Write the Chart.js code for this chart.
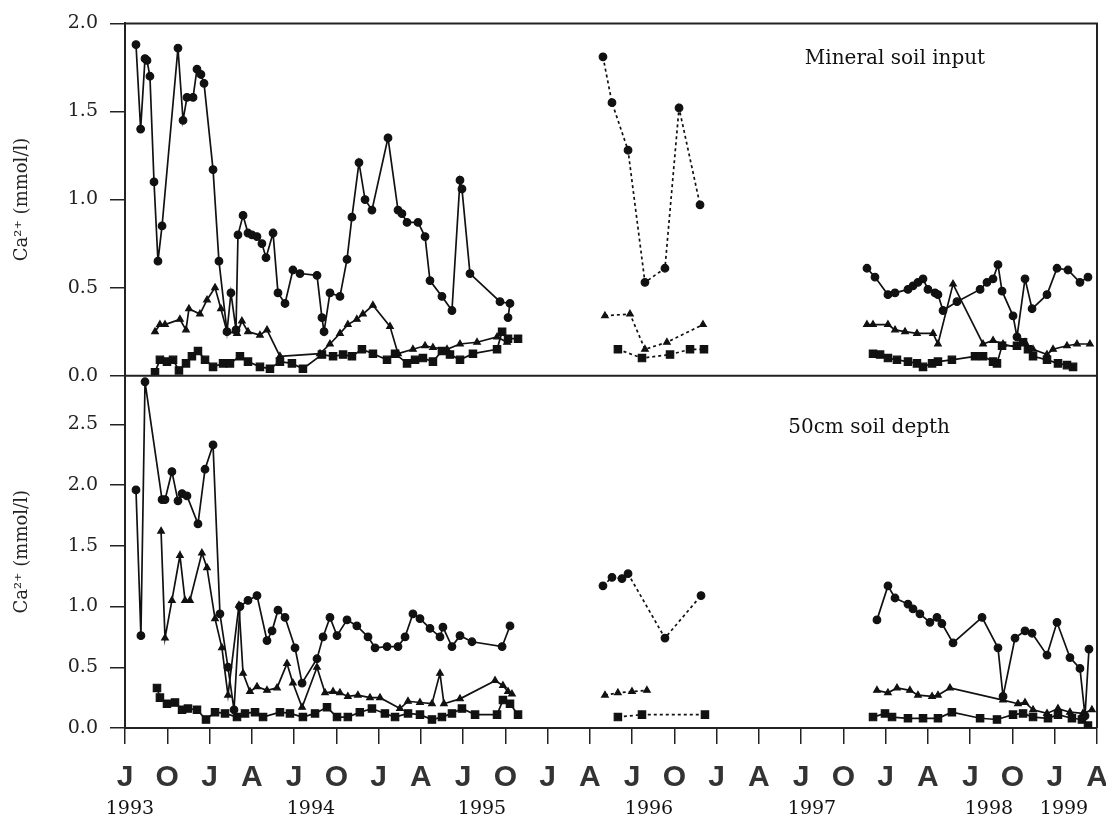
<!DOCTYPE html>
<html>
<head>
<meta charset="utf-8">
<script src="https://cdn.jsdelivr.net/npm/chart.js@4.4.1/dist/chart.umd.min.js"></script>
<style>
  html, body { margin: 0; padding: 0; background: #fff; }
  #wrap { position: relative; width: 1106px; height: 821px; }
</style>
</head>
<body>
<div id="wrap"><canvas id="caChart" width="1106" height="821"></canvas></div>
<script>
// x = months counted from January 1993 (Jul 1993 = 6, Apr 1999 = 75), y = Ca2+ in mmol/l
const monthLetters = ['J','O','J','A','J','O','J','A','J','O','J','A','J','O','J','A','J','O','J','A','J','O','J','A'];
const yearLabels = ['1993', '1994', '1995', '1996', '1997', '1998', '1999'];
const yearPos = [6.35, 19.2, 31.34, 43.2, 54.77, 67.33, 72.66];
const panelTitles = ['Mineral soil input', '50cm soil depth'];
const axisTitle = 'Ca\u00B2\u207A (mmol/l)';

// Mineral soil input
const topCirc93 = [[6.78,1.88],[7.11,1.40],[7.42,1.80],[7.56,1.79],[7.77,1.70],[8.06,1.10],[8.34,0.65],[8.63,0.85],[9.76,1.86],[10.12,1.45],[10.40,1.58],[10.83,1.58],[11.11,1.74],[11.39,1.71],[11.61,1.66],[12.25,1.17],[12.67,0.65],[13.24,0.25],[13.52,0.47],[13.88,0.26],[14.02,0.80],[14.38,0.91],[14.73,0.81],[15.01,0.80],[15.37,0.79],[15.72,0.75],[16.01,0.67],[16.51,0.81],[16.86,0.47],[17.36,0.41],[17.92,0.60],[18.42,0.58],[19.63,0.57],[19.98,0.33],[20.13,0.25],[20.55,0.47],[21.26,0.45],[21.76,0.66],[22.11,0.90],[22.61,1.21],[23.04,1.00],[23.53,0.94],[24.67,1.35],[25.38,0.94],[25.66,0.92],[26.02,0.87],[26.80,0.87],[27.30,0.79],[27.65,0.54],[28.50,0.45],[29.21,0.37],[29.78,1.11],[29.92,1.06],[30.49,0.58],[32.62,0.42],[33.33,0.41],[33.19,0.33]];
const topTri93 = [[8.13,0.25],[8.48,0.29],[8.84,0.29],[9.90,0.32],[10.33,0.26],[10.54,0.38],[11.32,0.35],[11.82,0.43],[12.39,0.50],[12.81,0.38],[13.24,0.25],[13.95,0.24],[14.30,0.31],[14.73,0.25],[15.58,0.23],[16.08,0.26],[17.00,0.11],[19.84,0.125],[20.55,0.18],[21.26,0.24],[21.82,0.29],[22.46,0.32],[22.89,0.35],[23.60,0.40],[24.81,0.28],[25.38,0.125],[26.44,0.15],[27.30,0.17],[27.86,0.16],[28.86,0.15],[29.78,0.18],[30.99,0.19],[32.41,0.22],[33.12,0.19]];
const topSq93 = [[8.13,0.02],[8.48,0.09],[8.98,0.08],[9.41,0.09],[9.83,0.03],[10.33,0.07],[10.75,0.11],[11.18,0.14],[11.68,0.09],[12.25,0.05],[12.96,0.07],[13.45,0.07],[14.16,0.11],[14.73,0.08],[15.58,0.05],[16.29,0.04],[17.00,0.08],[17.85,0.07],[18.63,0.04],[19.98,0.12],[20.77,0.11],[21.48,0.12],[22.11,0.11],[22.82,0.15],[23.60,0.125],[24.60,0.09],[25.17,0.125],[26.02,0.07],[26.59,0.09],[27.15,0.10],[27.86,0.08],[28.50,0.14],[29.07,0.12],[29.78,0.09],[30.70,0.125],[32.41,0.15],[32.77,0.25],[33.19,0.21],[33.90,0.21]];
const topCirc96 = [[39.93,1.81],[40.57,1.55],[41.71,1.28],[42.91,0.53],[44.33,0.61],[45.33,1.52],[46.82,0.97]];
const topTri96 = [[40.07,0.34],[41.85,0.35],[42.91,0.15],[44.47,0.19],[47.03,0.29]];
const topSq96 = [[40.99,0.15],[42.70,0.10],[44.69,0.12],[46.11,0.15],[47.10,0.15]];
const topCirc97 = [[58.67,0.61],[59.24,0.56],[60.16,0.46],[60.66,0.47],[61.58,0.49],[61.94,0.51],[62.29,0.53],[62.65,0.55],[63.00,0.49],[63.50,0.47],[63.71,0.46],[64.07,0.37],[65.06,0.42],[66.70,0.49],[67.19,0.53],[67.62,0.55],[67.97,0.63],[68.26,0.48],[69.04,0.34],[69.32,0.22],[69.89,0.55],[70.39,0.38],[71.45,0.46],[72.16,0.61],[72.94,0.60],[73.79,0.53],[74.36,0.56]];
const topTri97 = [[58.67,0.29],[59.10,0.29],[60.16,0.29],[60.66,0.26],[61.37,0.25],[62.22,0.24],[63.36,0.24],[63.71,0.18],[64.78,0.52],[66.91,0.18],[67.62,0.20],[68.33,0.18],[69.32,0.16],[69.89,0.19],[70.46,0.15],[71.45,0.12],[71.88,0.15],[72.87,0.17],[73.58,0.18],[74.50,0.18]];
const topSq97 = [[59.10,0.125],[59.60,0.12],[60.16,0.10],[60.80,0.09],[61.58,0.08],[62.22,0.07],[62.65,0.05],[63.29,0.07],[63.71,0.08],[64.70,0.09],[66.34,0.11],[66.91,0.11],[67.62,0.08],[67.90,0.07],[68.26,0.17],[69.32,0.17],[69.75,0.19],[70.10,0.15],[70.46,0.11],[71.45,0.09],[72.23,0.07],[72.87,0.06],[73.30,0.05]];

// 50cm soil depth
const botCirc93 = [[6.78,1.96],[7.13,0.76],[7.42,2.85],[8.63,1.88],[8.84,1.88],[9.33,2.11],[9.76,1.87],[10.05,1.93],[10.40,1.91],[11.18,1.68],[11.68,2.13],[12.25,2.33],[12.74,0.94],[13.31,0.50],[13.74,0.15],[14.16,1.00],[14.73,1.05],[15.37,1.09],[16.08,0.72],[16.44,0.80],[16.86,0.97],[17.36,0.91],[18.07,0.66],[18.57,0.37],[19.63,0.57],[20.06,0.75],[20.55,0.91],[21.05,0.76],[21.76,0.89],[22.46,0.84],[23.25,0.75],[23.75,0.66],[24.60,0.67],[25.38,0.67],[25.88,0.75],[26.44,0.94],[26.94,0.90],[27.65,0.82],[28.36,0.75],[28.57,0.83],[29.21,0.67],[29.78,0.76],[30.63,0.71],[32.77,0.67],[33.33,0.84]];
const botTri93 = [[8.56,1.62],[8.84,0.74],[9.33,1.05],[9.90,1.42],[10.26,1.05],[10.61,1.05],[11.46,1.44],[11.82,1.32],[12.39,0.90],[12.88,0.66],[13.31,0.27],[14.09,1.01],[14.38,0.45],[14.87,0.30],[15.37,0.34],[16.08,0.31],[16.79,0.33],[17.50,0.53],[17.92,0.37],[18.57,0.17],[19.63,0.50],[20.20,0.29],[20.77,0.30],[21.26,0.29],[21.82,0.26],[22.53,0.27],[23.39,0.25],[24.10,0.25],[25.52,0.16],[26.09,0.22],[26.94,0.21],[27.79,0.20],[28.36,0.45],[28.64,0.20],[29.78,0.24],[32.27,0.39],[32.83,0.35],[33.19,0.30],[33.47,0.28]];
const botSq93 = [[8.27,0.33],[8.48,0.25],[8.98,0.20],[9.55,0.21],[10.05,0.15],[10.47,0.16],[11.11,0.15],[11.75,0.07],[12.39,0.13],[13.10,0.12],[13.95,0.09],[14.52,0.12],[15.23,0.13],[15.80,0.09],[17.00,0.13],[17.71,0.12],[18.63,0.09],[19.49,0.12],[20.34,0.17],[21.05,0.09],[21.82,0.09],[22.67,0.13],[23.53,0.16],[24.45,0.12],[25.17,0.09],[26.09,0.12],[26.94,0.11],[27.79,0.07],[28.50,0.09],[29.21,0.12],[29.92,0.16],[30.85,0.11],[32.41,0.11],[32.83,0.23],[33.33,0.20],[33.90,0.11]];
const botCirc96 = [[39.93,1.17],[40.57,1.24],[41.28,1.23],[41.71,1.27],[44.33,0.74],[46.89,1.09]];
const botTri96 = [[40.07,0.27],[40.99,0.29],[41.99,0.30],[43.05,0.31]];
const botSq96 = [[40.99,0.09],[42.70,0.11],[47.17,0.11]];
const botCirc97 = [[59.38,0.89],[60.16,1.17],[60.66,1.07],[61.58,1.02],[61.94,0.98],[62.43,0.94],[63.14,0.87],[63.64,0.91],[63.99,0.86],[64.78,0.70],[66.84,0.91],[67.97,0.66],[68.33,0.26],[69.18,0.74],[69.89,0.80],[70.39,0.78],[71.45,0.60],[72.16,0.87],[73.08,0.58],[73.79,0.49],[74.15,0.10],[74.43,0.65]];
const botTri97 = [[59.38,0.31],[60.16,0.29],[60.80,0.33],[61.72,0.31],[62.29,0.27],[63.29,0.26],[63.71,0.27],[64.56,0.33],[68.33,0.23],[69.39,0.20],[69.89,0.21],[70.46,0.15],[71.45,0.12],[72.23,0.16],[73.08,0.13],[74.00,0.12],[74.64,0.15]];
const botSq97 = [[59.10,0.09],[59.95,0.12],[60.45,0.09],[61.58,0.08],[62.65,0.08],[63.71,0.08],[64.70,0.13],[66.70,0.08],[67.90,0.07],[69.04,0.11],[69.75,0.12],[70.46,0.09],[71.52,0.08],[72.23,0.11],[73.22,0.08],[73.93,0.07],[74.36,0.02]];

// where the panel captions sit, in data units (month, mmol/l)
const titleAt = [[60.66, 1.80], [58.82, 2.47]];

const ink = '#111';
const serif = '"DejaVu Serif", serif';

function series(data, axis, marker, size, dashed) {
  return {
    data: data.map(p => ({x: p[0], y: p[1]})),
    yAxisID: axis,
    borderColor: ink,
    backgroundColor: ink,
    borderWidth: 1.7,
    borderDash: dashed ? [3, 3] : [],
    pointStyle: marker,
    pointRadius: size,
    pointBorderWidth: 1.2,
    pointBackgroundColor: ink,
    tension: 0,
    fill: false
  };
}

const datasets = [
  series(topCirc93, 'yTop', 'circle', 3.8), series(topTri93, 'yTop', 'triangle', 3.8), series(topSq93, 'yTop', 'rect', 5.2),
  series(topCirc96, 'yTop', 'circle', 3.8, true), series(topTri96, 'yTop', 'triangle', 3.8, true), series(topSq96, 'yTop', 'rect', 5.2, true),
  series(topCirc97, 'yTop', 'circle', 3.8), series(topTri97, 'yTop', 'triangle', 3.8), series(topSq97, 'yTop', 'rect', 5.2),
  series(botCirc93, 'yBot', 'circle', 3.8), series(botTri93, 'yBot', 'triangle', 3.8), series(botSq93, 'yBot', 'rect', 5.2),
  series(botCirc96, 'yBot', 'circle', 3.8, true), series(botTri96, 'yBot', 'triangle', 3.8, true), series(botSq96, 'yBot', 'rect', 5.2, true),
  series(botCirc97, 'yBot', 'circle', 3.8), series(botTri97, 'yBot', 'triangle', 3.8), series(botSq97, 'yBot', 'rect', 5.2)
];

function yAxis(max, weight) {
  return {
    type: 'linear',
    position: 'left',
    stack: 'panels',
    stackWeight: 1,
    weight: weight,
    min: 0,
    max: max,
    ticks: {
      stepSize: 0.5,
      includeBounds: false,
      padding: 12,
      color: '#222',
      font: {family: serif, size: 19},
      callback: v => v.toFixed(1)
    },
    grid: {drawOnChartArea: false, tickLength: 15, color: '#222', lineWidth: 1.5},
    border: {color: '#222', width: 2},
    title: {
      display: true,
      text: axisTitle,
      color: '#222',
      font: {family: serif, size: 18},
      padding: {top: 12, bottom: 0}
    },
    afterFit: s => { s.width = 125; }
  };
}

// x axes: fixed heights, and no extra side padding for the edge labels
function fitX(h) {
  return s => { s.height = h; s.paddingLeft = 0; s.paddingRight = 0; };
}

// frame lines and the two panel captions
const framePlugin = {
  id: 'frame',
  afterDraw(chart) {
    const {ctx, chartArea: a, scales} = chart;
    ctx.save();
    ctx.strokeStyle = '#222';
    ctx.lineWidth = 2;
    ctx.beginPath();
    ctx.moveTo(a.left, a.top);
    ctx.lineTo(a.right, a.top);
    ctx.lineTo(a.right, a.bottom);
    const mid = scales.yTop.bottom;
    ctx.moveTo(a.left, mid);
    ctx.lineTo(a.right, mid);
    ctx.stroke();
    ctx.fillStyle = ink;
    ctx.font = '20px ' + serif;
    ctx.textAlign = 'center';
    ctx.textBaseline = 'middle';
    ctx.fillText(panelTitles[0], scales.x.getPixelForValue(titleAt[0][0]), scales.yTop.getPixelForValue(titleAt[0][1]));
    ctx.fillText(panelTitles[1], scales.x.getPixelForValue(titleAt[1][0]), scales.yBot.getPixelForValue(titleAt[1][1]));
    ctx.restore();
  }
};

new Chart(document.getElementById('caChart'), {
  type: 'line',
  data: {datasets: datasets},
  options: {
    responsive: false,
    animation: false,
    devicePixelRatio: 1,
    layout: {padding: {top: 20, right: 9, left: 0, bottom: 0}},
    plugins: {legend: {display: false}, tooltip: {enabled: false}},
    scales: {
      x: {
        type: 'linear',
        position: 'bottom',
        min: 6,
        max: 75,
        ticks: {
          stepSize: 3,
          autoSkip: false,
          maxRotation: 0,
          padding: 16,
          color: '#333',
          font: {family: '"Liberation Sans Narrow", "Liberation Sans", sans-serif', size: 30, weight: 'bold'},
          callback: (v, i) => monthLetters[i]
        },
        grid: {drawOnChartArea: false, tickLength: 16, color: '#222', lineWidth: 1.5},
        border: {color: '#222', width: 2},
        afterFit: fitX(60)
      },
      years: {
        type: 'linear',
        axis: 'x',
        position: 'bottom',
        weight: 5,
        min: 6,
        max: 75,
        afterBuildTicks: s => { s.ticks = yearPos.map(v => ({value: v})); },
        ticks: {
          autoSkip: false,
          maxRotation: 0,
          padding: 10,
          color: '#111',
          font: {family: serif, size: 19},
          callback: (v, i) => yearLabels[i]
        },
        grid: {display: false, drawTicks: false},
        border: {display: false},
        afterFit: fitX(33)
      },
      yTop: yAxis(2.0, 2),
      yBot: yAxis(2.9, 1)
    }
  },
  plugins: [framePlugin]
});
</script>
</body>
</html>
